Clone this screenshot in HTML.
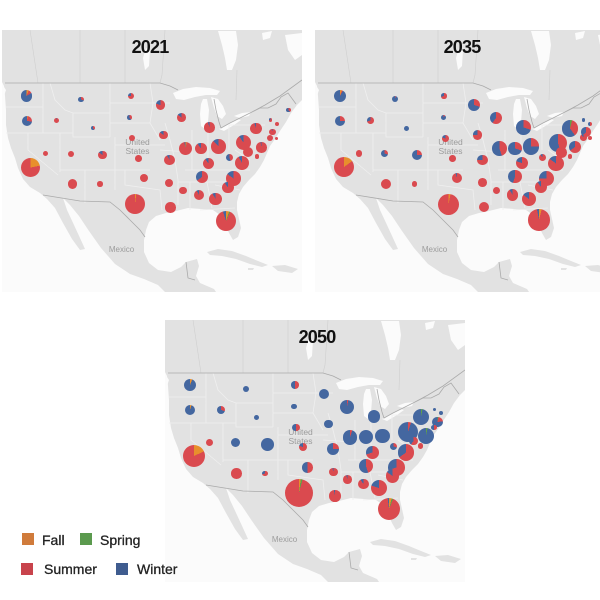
<!DOCTYPE html>
<html>
<head>
<meta charset="utf-8">
<style>
html,body{margin:0;padding:0;}
body{width:600px;height:600px;overflow:hidden;background:#fff;position:relative;font-family:"Liberation Sans",sans-serif;}
svg.m{position:absolute;left:0;top:0;}
.c{position:absolute;top:0;width:0;height:0;}
.c i{position:absolute;display:block;border-radius:50%;--f:0%;--s:0%;--w:0%;
left:calc((var(--x) - var(--r))*1px);top:calc((var(--y) - var(--r))*1px);
width:calc(var(--r)*2px);height:calc(var(--r)*2px);
background:conic-gradient(#e88f2c 0 var(--f),#5fa04a 0 var(--s),#da4a4f 0 calc(100% - var(--w)),#4467a0 0);}
.t{position:absolute;width:100px;text-align:center;font-weight:bold;font-size:18px;line-height:18px;letter-spacing:-0.8px;color:#111;}
.sq{position:absolute;width:12px;height:12px;}
.lg{position:absolute;font-size:14px;line-height:14px;color:#222;-webkit-text-stroke:0.3px #222;}
</style>
</head>
<body>
<svg class="m" width="600" height="600" viewBox="0 0 600 600">
<defs>
<clipPath id="cp" clipPathUnits="userSpaceOnUse"><rect x="2" y="30" width="300" height="262"/></clipPath>
<g id="map">
<rect x="0" y="0" width="320" height="300" fill="#fbfbfb"/>
<path fill="#e2e2e2" d="M2,30 L302,30 L302,100 L297,105 L291,113 L286,122 L280,131 L275,139 L270,146 L267,153 L264,160 L260,167 L255,174 L249,180 L243,187 L239,194 L237,202 L237,210 L239,219 L241,228 L238,237 L233,240 L229,233 L225,224 L220,215 L213,210 L201,209 L188,208 L176,211 L166,213 L156,216 L149,222 L146,230 L144,240 L144,252 L149,263 L158,270 L171,272 L181,267 L186,262 L197,259 L199,266 L196,276 L200,283 L214,289 L216,292 L165,292 L158,285 L144,279 L130,274 L115,264 L101,248 L89,231 L79,216 L70,205 L63,198 L67,210 L74,225 L80,238 L85,249 L80,250 L72,239 L63,223 L55,208 L47,199 L40,193 L30,187 L23,179 L18,168 L15,158 L11,148 L8,138 L6,125 L6,110 L5,96 L4,86 L2,82 Z"/>
<path fill="#e2e2e2" d="M207,252 L218,249 L232,251 L246,256 L258,261 L268,265 L262,267 L250,264 L236,259 L222,256 L210,255 Z M272,266 L285,265 L298,269 L292,273 L278,271 Z M248,268 L254,268 L253,270 L248,270 Z"/>
<path fill="#fbfbfb" d="M173,93 L183,89 L196,87 L210,88 L220,91 L217,95 L206,95 L195,97 L184,100 L176,99 Z M203,99 L207,99 L209,110 L208,122 L205,129 L201,126 L200,114 L201,104 Z M211,97 L218,99 L223,106 L226,114 L222,119 L217,116 L214,108 Z M219,129 L228,124 L238,119 L241,120 L234,125 L224,131 Z M234,116 L242,113 L251,112 L249,116 L240,118 Z M218,31 L236,31 L238,45 L236,60 L232,70 L227,70 L225,58 L222,45 Z M146,48 L150,50 L149,66 L145,70 L143,58 Z M262,33 L272,31 L270,38 L263,40 Z M285,35 L302,33 L302,55 L295,60 L288,50 Z M2,84 L6,90 L4,96 L2,95 Z"/>
<path fill="none" stroke="#efefef" stroke-width="0.8" d="M6,107 L43,107 M43,83 L43,133 M6,133 L73,133 M28,133 L28,150 L58,175 M60,133 L60,172 M60,170 L150,170 M85,170 L85,203 M50,83 L55,100 L65,110 L73,113 L110,113 M73,113 L73,137 L110,137 M110,83 L110,137 M115,137 L115,190 M110,103 L150,103 M110,123 L150,123 M115,145 L165,145 M150,83 L153,103 L150,123 L160,140 M165,123 L170,140 L175,160 L178,180 L178,205 M125,170 L125,185 L160,190 L162,210 M192,130 L192,170 M208,128 L208,160 M229,125 L229,150 M229,125 L265,125 M185,170 L250,170 M178,182 L228,182 M190,182 L190,210 M207,182 L212,208 M200,210 L235,208 M215,185 L240,190 M235,150 L250,160 M160,150 L190,152 M140,103 L170,103"/>
<path fill="none" stroke="#cfcfcf" stroke-width="0.6" d="M30,30 L38,83 M80,30 L80,83 M125,30 L125,83 M165,30 L162,75 L160,83 M237,70 L236,100"/>
<path fill="none" stroke="#aaaaaa" stroke-width="0.8" d="M5,83 L160,83 L170,86 L178,90 M214,99 L216,110 L219,122 L221,128 L230,123 L240,118 L252,112 L260,108 L268,108 L276,104 L281,97 L288,93 L296,104 M252,112 L265,105 L280,96 L302,80 M43,195 L80,201 L110,202 L120,210 L130,220 L140,230 L145,237 M186,262 L188,278 L195,280"/>
<text x="137.5" y="145" font-size="8.5" fill="#9c9c9c" text-anchor="middle" font-family="Liberation Sans, sans-serif">United</text>
<text x="137.5" y="154" font-size="8.5" fill="#9c9c9c" text-anchor="middle" font-family="Liberation Sans, sans-serif">States</text>
<text x="121.5" y="252" font-size="8" fill="#9c9c9c" text-anchor="middle" font-family="Liberation Sans, sans-serif">Mexico</text>
</g>
</defs>
<g><g clip-path="url(#cp)"><use href="#map"/></g></g>
<g transform="translate(313,0)"><g clip-path="url(#cp)"><use href="#map"/></g></g>
<g transform="translate(163,290)"><g clip-path="url(#cp)"><use href="#map"/></g></g>
</svg>

<div class="t" style="left:100px;top:38px;">2021</div>
<div class="t" style="left:412px;top:38px;">2035</div>
<div class="t" style="left:267px;top:328px;">2050</div>

<!-- Panel 1: 2021 -->
<div class="c" style="left:0px;top:0px;">
<i style="--x:26.7;--y:96;--r:5.7;--f:6%;--w:84%"></i>
<i style="--x:26.7;--y:121;--r:5;--f:2%;--w:73%"></i>
<i style="--x:81;--y:99.3;--r:2.7;--w:70%"></i>
<i style="--x:130.7;--y:96;--r:3;--w:25%"></i>
<i style="--x:160.3;--y:105;--r:4.7;--w:20%"></i>
<i style="--x:129.3;--y:117.7;--r:2.3;--w:60%"></i>
<i style="--x:56.7;--y:120.3;--r:2.7;--w:5%"></i>
<i style="--x:92.7;--y:128.3;--r:2;--w:60%"></i>
<i style="--x:181.7;--y:117.7;--r:4.3;--w:15%"></i>
<i style="--x:209.3;--y:127.3;--r:5.3;--w:5%"></i>
<i style="--x:256;--y:128.3;--r:5.7;--w:5%"></i>
<i style="--x:288.3;--y:110;--r:2.3;--w:60%"></i>
<i style="--x:270.3;--y:120;--r:1.7;--w:30%"></i>
<i style="--x:276.7;--y:124;--r:2"></i>
<i style="--x:272.7;--y:132;--r:3.3;--w:5%"></i>
<i style="--x:270;--y:137.7;--r:3"></i>
<i style="--x:276.7;--y:138.3;--r:1.7"></i>
<i style="--x:132.3;--y:138.3;--r:3"></i>
<i style="--x:163.7;--y:135;--r:4.3;--w:15%"></i>
<i style="--x:45.7;--y:153.3;--r:2.7"></i>
<i style="--x:70.7;--y:153.7;--r:3"></i>
<i style="--x:102.7;--y:155;--r:4.3;--w:15%"></i>
<i style="--x:138.7;--y:158.3;--r:3.3"></i>
<i style="--x:185.7;--y:148.3;--r:6.7;--f:3%;--w:3%"></i>
<i style="--x:201;--y:148.3;--r:5.7;--w:10%"></i>
<i style="--x:218.3;--y:146.7;--r:7.3;--w:12%"></i>
<i style="--x:243.7;--y:142.7;--r:7.7;--w:10%"></i>
<i style="--x:261.7;--y:147.3;--r:5.3;--w:3%"></i>
<i style="--x:248.3;--y:152.3;--r:5"></i>
<i style="--x:257;--y:156.7;--r:2.3"></i>
<i style="--x:169.3;--y:160;--r:5.3;--w:8%"></i>
<i style="--x:208.3;--y:163.3;--r:5.7;--w:10%"></i>
<i style="--x:229.3;--y:157.3;--r:3.7;--w:55%"></i>
<i style="--x:242;--y:163.3;--r:7;--w:8%"></i>
<i style="--x:30.5;--y:167.5;--r:9.5;--f:22%"></i>
<i style="--x:143.7;--y:178.3;--r:4"></i>
<i style="--x:169.3;--y:182.7;--r:4"></i>
<i style="--x:202;--y:176.7;--r:6;--w:35%"></i>
<i style="--x:233.3;--y:178.3;--r:7.3;--w:15%"></i>
<i style="--x:72.3;--y:184;--r:4.7"></i>
<i style="--x:100;--y:184;--r:2.7"></i>
<i style="--x:228;--y:187.3;--r:5.7;--w:10%"></i>
<i style="--x:183;--y:190.3;--r:3.7"></i>
<i style="--x:198.7;--y:195;--r:5;--w:8%"></i>
<i style="--x:215.7;--y:199;--r:6.3;--w:8%"></i>
<i style="--x:135;--y:204.3;--r:10;--f:2%"></i>
<i style="--x:170.7;--y:207.3;--r:5.3"></i>
<i style="--x:225.7;--y:221.3;--r:10;--f:5%;--s:7%;--w:5%"></i>
</div>

<!-- Panel 2: 2035 -->
<div class="c" style="left:313px;top:0px;">
<i style="--x:27;--y:96;--r:6;--f:5%;--w:92%"></i>
<i style="--x:27;--y:121;--r:5;--w:75%"></i>
<i style="--x:82;--y:99.3;--r:3;--w:95%"></i>
<i style="--x:131;--y:96;--r:2.7;--w:30%"></i>
<i style="--x:161;--y:105;--r:6;--w:70%"></i>
<i style="--x:130.3;--y:117.7;--r:2.7;--w:90%"></i>
<i style="--x:57.3;--y:120.7;--r:3.3;--w:30%"></i>
<i style="--x:93.7;--y:128.3;--r:2.7;--w:100%"></i>
<i style="--x:182.7;--y:117.7;--r:6;--w:40%"></i>
<i style="--x:210.3;--y:127.3;--r:7.3;--w:70%"></i>
<i style="--x:257;--y:128.3;--r:8.3;--s:4%;--w:60%"></i>
<i style="--x:270.3;--y:120;--r:1.7;--w:100%"></i>
<i style="--x:277;--y:124;--r:2;--w:50%"></i>
<i style="--x:273;--y:132;--r:4.7;--w:40%"></i>
<i style="--x:270.3;--y:137.3;--r:3.3;--w:10%"></i>
<i style="--x:277;--y:138.3;--r:2"></i>
<i style="--x:132.7;--y:138.3;--r:3.3;--w:20%"></i>
<i style="--x:164.7;--y:135;--r:4.7;--w:25%"></i>
<i style="--x:46;--y:153.3;--r:3.3"></i>
<i style="--x:71.3;--y:153.3;--r:3.7;--w:70%"></i>
<i style="--x:103.7;--y:155;--r:5;--w:75%"></i>
<i style="--x:139.3;--y:158.3;--r:3.3"></i>
<i style="--x:186.3;--y:148.3;--r:7.3;--w:55%"></i>
<i style="--x:202;--y:148.3;--r:6.7;--w:70%"></i>
<i style="--x:218;--y:146.7;--r:8.3;--w:75%"></i>
<i style="--x:245.3;--y:142.7;--r:9;--w:55%"></i>
<i style="--x:262;--y:146.7;--r:6;--w:35%"></i>
<i style="--x:248.7;--y:152.3;--r:5.3"></i>
<i style="--x:257;--y:156.7;--r:2.3"></i>
<i style="--x:169.7;--y:160;--r:5.3;--w:25%"></i>
<i style="--x:208.7;--y:163.3;--r:6;--w:20%"></i>
<i style="--x:229.7;--y:157.3;--r:3.7;--w:10%"></i>
<i style="--x:243;--y:163.3;--r:7.7;--w:15%"></i>
<i style="--x:31;--y:167;--r:10;--f:15%"></i>
<i style="--x:144.3;--y:178.3;--r:5;--w:5%"></i>
<i style="--x:169.7;--y:182.7;--r:4.3"></i>
<i style="--x:202;--y:176.7;--r:6.7;--w:45%"></i>
<i style="--x:233.7;--y:178.3;--r:7.7;--w:25%"></i>
<i style="--x:73;--y:184;--r:5"></i>
<i style="--x:101.3;--y:184;--r:2.7"></i>
<i style="--x:228.3;--y:187.3;--r:6;--w:10%"></i>
<i style="--x:183.7;--y:190.3;--r:3.7"></i>
<i style="--x:199.3;--y:195;--r:5.7;--w:8%"></i>
<i style="--x:216;--y:199;--r:7;--w:15%"></i>
<i style="--x:135.7;--y:204.3;--r:10.7;--f:3%"></i>
<i style="--x:171;--y:207.3;--r:5"></i>
<i style="--x:226;--y:220;--r:10.7;--f:4%;--w:3%"></i>
</div>

<!-- Panel 3: 2050 -->
<div class="c" style="left:163px;top:290px;">
<i style="--x:27;--y:95;--r:6;--f:6%;--w:94%"></i>
<i style="--x:27;--y:120;--r:5.3;--f:5%;--w:95%"></i>
<i style="--x:82.7;--y:98.7;--r:3;--w:100%"></i>
<i style="--x:132;--y:95;--r:3.7;--w:50%"></i>
<i style="--x:161;--y:104.3;--r:5;--w:100%"></i>
<i style="--x:131;--y:116.7;--r:2.7;--w:100%"></i>
<i style="--x:57.7;--y:120;--r:4;--w:70%"></i>
<i style="--x:93.7;--y:127.3;--r:2.7;--w:100%"></i>
<i style="--x:183.7;--y:116.7;--r:7;--w:97%"></i>
<i style="--x:211;--y:126.7;--r:6.3;--w:100%"></i>
<i style="--x:257.7;--y:127.3;--r:8;--s:3%;--w:97%"></i>
<i style="--x:271.3;--y:119.3;--r:1.7;--w:100%"></i>
<i style="--x:277.7;--y:122.7;--r:2;--w:100%"></i>
<i style="--x:274.3;--y:132;--r:5.3;--s:3%;--w:77%"></i>
<i style="--x:271;--y:137.3;--r:2.7;--w:50%"></i>
<i style="--x:133;--y:137.3;--r:3.7;--w:50%"></i>
<i style="--x:165.3;--y:134;--r:4.3;--w:100%"></i>
<i style="--x:46.3;--y:152.3;--r:3.7"></i>
<i style="--x:72.3;--y:152.3;--r:4.7;--w:100%"></i>
<i style="--x:104.3;--y:154.3;--r:6.3;--w:100%"></i>
<i style="--x:140;--y:157.3;--r:4;--w:20%"></i>
<i style="--x:187;--y:147.3;--r:7.3;--w:95%"></i>
<i style="--x:203;--y:147.3;--r:7;--w:100%"></i>
<i style="--x:219.3;--y:146;--r:7.3;--w:100%"></i>
<i style="--x:245.3;--y:141.7;--r:10;--w:95%"></i>
<i style="--x:263;--y:146;--r:8.3;--s:3%;--w:97%"></i>
<i style="--x:250.3;--y:151;--r:4.3;--w:40%"></i>
<i style="--x:257.7;--y:156;--r:2.7"></i>
<i style="--x:170.3;--y:159.3;--r:6;--w:75%"></i>
<i style="--x:209.3;--y:162.7;--r:6.3;--w:30%"></i>
<i style="--x:230.3;--y:156.7;--r:3.7;--w:70%"></i>
<i style="--x:243;--y:162.7;--r:8.3;--w:35%"></i>
<i style="--x:31;--y:165.7;--r:11;--f:18%"></i>
<i style="--x:144.7;--y:177.3;--r:5.3;--w:50%"></i>
<i style="--x:170.3;--y:182;--r:4.3;--w:5%"></i>
<i style="--x:203;--y:176;--r:7;--w:55%"></i>
<i style="--x:233.7;--y:177.3;--r:8.3;--w:30%"></i>
<i style="--x:73.7;--y:183.3;--r:5.3"></i>
<i style="--x:102;--y:183.3;--r:2.7;--w:30%"></i>
<i style="--x:229.3;--y:186;--r:6.7;--w:15%"></i>
<i style="--x:184.7;--y:189.3;--r:4.3;--w:5%"></i>
<i style="--x:200.3;--y:194;--r:5.3;--w:10%"></i>
<i style="--x:216.3;--y:198.3;--r:8;--w:20%"></i>
<i style="--x:136.3;--y:203.3;--r:14;--f:2%;--s:4%"></i>
<i style="--x:172;--y:206;--r:5.7;--w:3%"></i>
<i style="--x:226.3;--y:219.3;--r:11;--f:4%;--s:6%;--w:2%"></i>
</div>

<!-- Legend -->
<div class="sq" style="left:22px;top:533px;background:#d07b3b;"></div>
<div class="lg" style="left:42px;top:533px;">Fall</div>
<div class="sq" style="left:80px;top:533px;background:#5b9a4e;"></div>
<div class="lg" style="left:100px;top:533px;">Spring</div>
<div class="sq" style="left:21px;top:563px;background:#c8434c;"></div>
<div class="lg" style="left:44px;top:562px;">Summer</div>
<div class="sq" style="left:116px;top:563px;background:#3f5c8f;"></div>
<div class="lg" style="left:137px;top:562px;">Winter</div>
</body>
</html>
